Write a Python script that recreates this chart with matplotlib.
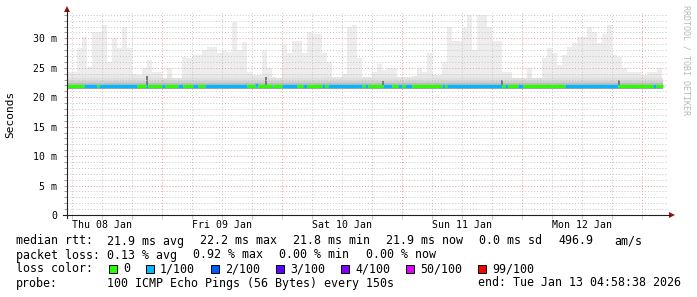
import numpy as np
import matplotlib.pyplot as plt
from matplotlib.lines import Line2D
from matplotlib.patches import Polygon, Rectangle
from matplotlib.ticker import FixedLocator, NullFormatter
import matplotlib.transforms as mtransforms

plt.rcParams['font.family'] = ['DejaVu Sans Mono']

W, H = 697, 297

# graph window: 5 days ending Tue Jan 13 04:58:38, hours from start
span_h = 120.0
start_clock_h = 4 + 58 / 60 + 38 / 3600      # Thu 08 Jan 04:58:38
data_end_h = 119.2
day_names = ['Thu 08 Jan', 'Fri 09 Jan', 'Sat 10 Jan', 'Sun 11 Jan', 'Mon 12 Jan']

# hourly upper edge of the smoke (slowest ping, ms)
smoke_max = [24.3, 24.3, 28.3, 30.3, 25.2, 31.1, 31.0, 32.3, 26.0, 30.0,
             28.3, 31.9, 28.3, 24.0, 23.7, 24.9, 26.3, 24.3, 24.3, 23.2,
             24.9, 23.2, 23.2, 26.9, 26.6, 27.2, 27.2, 28.0, 28.6, 28.6,
             27.5, 27.8, 27.6, 32.8, 28.0, 29.4, 24.3, 23.7, 23.7, 28.0,
             24.9, 23.4, 23.2, 28.9, 27.5, 29.6, 29.6, 27.5, 31.1, 30.8,
             30.8, 27.5, 26.0, 23.4, 23.4, 24.0, 31.9, 32.3, 26.6, 23.4,
             23.4, 24.3, 25.7, 24.6, 24.9, 24.9, 23.4, 23.4, 23.4, 23.6,
             24.9, 24.3, 27.5, 23.7, 23.7, 26.0, 31.9, 29.6, 29.6, 31.7,
             33.9, 28.0, 34.0, 34.0, 31.9, 29.6, 29.6, 24.3, 24.3, 23.2,
             23.2, 23.2, 24.9, 23.2, 23.2, 26.6, 28.3, 27.5, 25.4, 27.2,
             28.6, 29.2, 30.3, 30.3, 31.9, 31.1, 29.2, 30.8, 32.3, 27.2,
             26.9, 24.9, 24.3, 24.3, 24.3, 23.7, 24.3, 24.3, 24.9, 23.2]

# median rtt segments: start hour, loss bucket (0 -> 0, 1 -> 1/100), median ms
seg_start_h = [0, 3.4, 6.0, 6.4, 14.0, 15.8, 16.2, 19.0, 19.6, 22.2,
               23.2, 25.2, 26.2, 27.6, 36.0, 37.6, 38.2, 41.0, 41.2, 43.0,
               46.0, 47.2, 48.0, 51.0, 51.6, 52.2, 59.0, 59.6, 60.2, 63.2,
               65.0, 66.2, 67.0, 67.6, 69.0, 75.0, 75.6, 76.0, 87.0, 87.6,
               88.2, 90.2, 91.2, 99.6, 110.2, 117.2, 117.8]
seg_loss = [0, 1, 0, 1, 0, 1, 0, 1, 0, 1,
            0, 1, 0, 1, 0, 1, 0, 1, 0, 1,
            0, 1, 0, 1, 0, 1, 0, 1, 0, 1,
            0, 1, 0, 1, 0, 1, 0, 1, 0, 1,
            0, 1, 0, 1, 0, 1, 0]
seg_median = [21.9] * 15 + [22.0] + [21.9] * 31

# short bursts of dense smoke
spike_h = [15.9, 39.7, 63.2, 87.0, 110.4]
spike_top = [23.6, 23.4, 22.8, 22.9, 22.9]

loss_labels = ['0', '1/100', '2/100', '3/100', '4/100', '50/100', '99/100']
loss_colors = ['#26ff00', '#00b8ff', '#0059ff', '#5e00ff', '#7e00ff', '#dd00ff', '#ff0000']

stats_rtt = ['21.9 ms avg', '22.2 ms max', '21.8 ms min', '21.9 ms now', '0.0 ms sd', '496.9', 'am/s']
stats_loss = ['0.13 % avg', '0.92 % max', '0.00 % min', '0.00 % now']
probe_text = '100 ICMP Echo Pings (56 Bytes) every 150s'
end_text = 'end: Tue Jan 13 04:58:38 2026'

fig = plt.figure(figsize=(W / 100, H / 100), dpi=100)
fig.patch.set_facecolor('white')


def fx(px):
    return px / W


def fy(py):
    return 1 - py / H


ax = fig.add_axes([fx(67), fy(215), 600 / W, 202 / H])
ax.set_xlim(0, span_h)
ax.set_ylim(0, 34.3)
for s in ax.spines.values():
    s.set_visible(False)

# grid (drawn over the smoke, under the median line)
midnights = [24 * k - start_clock_h for k in range(1, 6)]
six_hours = [m + d for m in [-start_clock_h] + midnights for d in (6, 12, 18)]
six_hours = [h for h in six_hours if 0 < h < span_h]
ax.xaxis.set_major_locator(FixedLocator(midnights))
ax.xaxis.set_minor_locator(FixedLocator(six_hours))
ax.yaxis.set_major_locator(FixedLocator(range(0, 35, 5)))
ax.yaxis.set_minor_locator(FixedLocator([v for v in range(1, 35) if v % 5]))
ax.grid(which='minor', color='#c4c4c4', linestyle=(0, (1, 2)), linewidth=0.7, zorder=3)
ax.grid(which='major', color='#e89a9a', linestyle=(0, (1, 2)), linewidth=0.7, zorder=3)
ax.set_axisbelow(False)
ax.xaxis.set_major_formatter(NullFormatter())
ax.tick_params(axis='x', which='both', length=3, color='#c8c8c8', width=0.7)
ax.tick_params(axis='y', which='both', length=2, color='#a0a0a0', width=0.7, pad=5,
               labelsize=7.1)
ax.set_yticklabels(['0'] + ['%d m' % v for v in range(5, 35, 5)])

# smoke
edges = np.arange(len(smoke_max) + 1, dtype=float)
edges[-1] = data_end_h
ax.stairs(smoke_max, edges, baseline=21.5, fill=True, color='#ededed', lw=0, zorder=1)
ax.stairs(np.minimum(smoke_max, 24.0), edges, baseline=21.5, fill=True,
          color='#e7e7e7', lw=0, zorder=1.1)
ax.fill_between([0, data_end_h], 22.8, 23.2, color='#dedede', lw=0, zorder=1.2)
ax.fill_between([0, data_end_h], 22.45, 22.8, color='#cfcfcf', lw=0, zorder=1.2)
ax.fill_between([0, data_end_h], 22.1, 22.45, color='#bcbcbc', lw=0, zorder=1.2)
ax.fill_between([0, data_end_h], 21.4, 21.7, color='#a4a4a4', lw=0, zorder=1.2)
ax.bar(spike_h, [t - 22.1 for t in spike_top], bottom=22.1, width=0.4,
       color='#7a7a7a', lw=0, zorder=1.3)

# median rtt coloured by loss
seg_end_h = seg_start_h[1:] + [data_end_h]
ax.hlines(seg_median, seg_start_h, seg_end_h,
          colors=[loss_colors[c] for c in seg_loss], linewidth=2.3, zorder=5)

# day labels at noon
tr = mtransforms.blended_transform_factory(ax.transData, fig.transFigure)
for i, name in enumerate(day_names):
    ax.text(24 * i + 12 - start_clock_h, fy(225), name, transform=tr,
            ha='center', va='center', fontsize=7.1, clip_on=False)

# axes with arrows
axis_col = '#202020'
arrow_col = '#a01010'
fig.add_artist(Line2D([fx(67), fx(67)], [fy(218), fy(10)], transform=fig.transFigure,
                      color=axis_col, lw=0.8))
fig.add_artist(Line2D([fx(63), fx(670)], [fy(215), fy(215)], transform=fig.transFigure,
                      color=axis_col, lw=0.8))
fig.add_artist(Polygon([[fx(64), fy(12)], [fx(70), fy(12)], [fx(67), fy(6)]],
                       closed=True, transform=fig.transFigure, color=arrow_col, lw=0))
fig.add_artist(Polygon([[fx(669), fy(212)], [fx(669), fy(218)], [fx(675), fy(215)]],
                       closed=True, transform=fig.transFigure, color=arrow_col, lw=0))

fig.text(fx(10), fy(114), 'Seconds', rotation=90, ha='center', va='center', fontsize=8)
fig.text(fx(686), fy(60), 'RRDTOOL / TOBI OETIKER', rotation=270, ha='center',
         va='center', fontsize=6, color='#b8b8b8')

# legend block
lfs = 8.4
fig.text(fx(16), fy(241), 'median rtt:', va='center', fontsize=lfs)
for x, s in zip([107, 200, 293, 386, 479, 558, 614], stats_rtt):
    fig.text(fx(x), fy(241), s, va='center', fontsize=lfs)

fig.text(fx(16), fy(255), 'packet loss:', va='center', fontsize=lfs)
for x, s in zip([107, 193, 279, 366], stats_loss):
    fig.text(fx(x), fy(255), s, va='center', fontsize=lfs)

fig.text(fx(16), fy(269), 'loss color:', va='center', fontsize=lfs)
box_x = [109, 146, 211, 276, 341, 406, 478]
for bx, lab, col in zip(box_x, loss_labels, loss_colors):
    fig.add_artist(Rectangle((fx(bx), fy(273)), 8 / W, 8 / H, transform=fig.transFigure,
                             facecolor=col, edgecolor='black', lw=0.7))
    fig.text(fx(bx + 14), fy(269), lab, va='center', fontsize=lfs)

fig.text(fx(16), fy(283), 'probe:', va='center', fontsize=lfs)
fig.text(fx(107), fy(283), probe_text, va='center', fontsize=lfs)
fig.text(fx(478), fy(283), end_text, va='center', fontsize=lfs)

fig.savefig('out.png', dpi=100)
